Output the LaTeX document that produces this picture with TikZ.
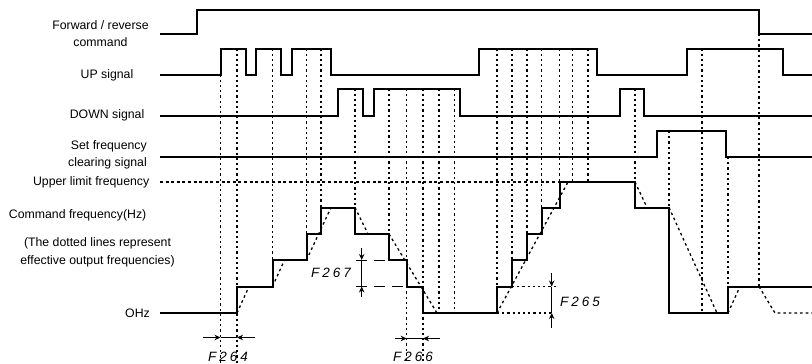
\documentclass[tikz,border=0pt]{standalone}
\usepackage{fontspec}
\setmainfont{Liberation Sans}
\newfontfamily\segfont[LetterSpace=22]{Liberation Sans}
\usetikzlibrary{arrows.meta}
\begin{document}
\begin{tikzpicture}[x=1pt,y=-1pt,
  sigline/.style={line width=2pt,line join=miter},
  vdot/.style={line width=1.3pt,dash pattern=on 2.2pt off 3pt},
  effline/.style={line width=1.3pt,dash pattern=on 2.6pt off 3pt},
  ulim/.style={line width=1.2pt,dash pattern=on 3pt off 2.6pt},
  longdash/.style={line width=1pt,dash pattern=on 11pt off 7pt},
  dimline/.style={line width=1pt},
  tip/.style={-{Stealth[length=6pt,width=5.5pt]}},
  lbl/.style={font=\fontsize{12.3}{16.5}\selectfont,inner sep=0pt},
  seg/.style={font=\fontsize{13.5}{15}\selectfont\segfont\itshape,inner sep=0pt}]
\useasboundingbox (0,0) rectangle (812,364);

% ---- labels
\node[lbl,align=center] (lfwd) at (100.5,33.5) {Forward / reverse\\command};
\node[lbl,anchor=east] (lup) at (133.5,75) {UP signal};
\node[lbl,anchor=east] (ldown) at (144.5,115) {DOWN signal};
\node[lbl,align=right,anchor=east] (lclr) at (147,155) {Set frequency\\clearing signal};
\node[lbl,anchor=east] (lulim) at (149.5,182.5) {Upper limit frequency};
\node[lbl,anchor=east] (lcmd) at (146.5,215) {Command frequency(Hz)};
\node[lbl,align=center,font=\fontsize{12.3}{18}\selectfont] (lnote) at (97.5,252.5) {(The dotted lines represent\\effective output frequencies)};
\node[lbl,anchor=east] (lzero) at (150,313) {OHz};

% ---- signals
\draw[sigline] (160,34) -- (197,34) -- (197,9.5) -- (759,9.5) -- (759,34) -- (812,34);
\draw[sigline] (160,74.5) -- (220.5,74.5) -- (220.5,48.5) -- (245.5,48.5) -- (245.5,74.5)
  -- (256,74.5) -- (256,48.5) -- (280.5,48.5) -- (280.5,74.5) -- (291.5,74.5) -- (291.5,48.5)
  -- (331,48.5) -- (331,74.5) -- (479,74.5) -- (479,48.5) -- (597,48.5) -- (597,74.5)
  -- (687,74.5) -- (687,48.5) -- (783,48.5) -- (783,74.5) -- (812,74.5);
\draw[sigline] (160,115.5) -- (337.5,115.5) -- (337.5,88.5) -- (362.5,88.5) -- (362.5,115.5)
  -- (373.5,115.5) -- (373.5,88.5) -- (460,88.5) -- (460,115.5) -- (620,115.5) -- (620,88.5)
  -- (644,88.5) -- (644,115.5) -- (812,115.5);
\draw[sigline] (160,157) -- (657,157) -- (657,131) -- (726,131) -- (726,157) -- (812,157);

% ---- upper limit
\draw[ulim] (160,182) -- (559.5,182);

% ---- vertical markers
\foreach \x/\ya/\yb in {220.5/74.5/363, 237/48.5/363, 272.5/48.5/260, 306.5/48.5/234,
  321/48.5/207.5, 355/88.5/207.5, 389/88.5/234, 406.7/88.5/363, 423/88.5/363,
  439/88.5/313, 454.5/88.5/313, 497/48.5/286.5, 512/48.5/260, 527/48.5/234,
  541.5/48.5/207.5, 559.5/48.5/182, 572.5/48.5/182, 588/48.5/182, 635/88.5/182,
  669/131/207.5, 702/48.5/313, 728/157/286.5, 759/34/286.5}
  \draw[vdot] (\x,\ya) -- (\x,\yb);

% ---- command frequency
\draw[sigline] (160,313) -- (237,313) -- (237,286.5) -- (272.5,286.5) -- (272.5,260)
  -- (306.5,260) -- (306.5,234) -- (321,234) -- (321,207.5) -- (355,207.5) -- (355,234)
  -- (389,234) -- (389,260) -- (406.7,260) -- (406.7,286.5) -- (423,286.5) -- (423,313)
  -- (497,313) -- (497,286.5) -- (512,286.5) -- (512,260) -- (527,260) -- (527,234)
  -- (541.5,234) -- (541.5,207.5) -- (559.5,207.5) -- (559.5,182) -- (635,182)
  -- (635,207.5) -- (669,207.5) -- (669,313) -- (728,313) -- (728,286.5) -- (812,286.5);

% ---- effective output frequency
\draw[effline] (237,313) -- (249,286.5);
\draw[effline] (272.5,286.5) -- (284.5,260);
\draw[effline] (306.5,260) -- (331,207.5);
\draw[effline] (355,207.5) -- (368,234);
\draw[effline] (389,234) -- (437,313);
\draw[effline] (497,313) -- (568,182);
\draw[effline] (635,182) -- (647,207.5);
\draw[effline] (669,207.5) -- (717,313);
\draw[effline] (728,313) -- (740,286.5);
\draw[effline] (759,286.5) -- (775,313) -- (812,313);

% ---- F264
\draw[dimline,tip] (203,337.5) -- (220.5,337.5);
\draw[dimline] (220.5,337.5) -- (237,337.5);
\draw[dimline,tip] (255,337.5) -- (237,337.5);
\node[seg] (f264) at (228,357) {F264};

% ---- F266
\draw[dimline,tip] (395,338.5) -- (406.7,338.5);
\draw[dimline] (406.7,338.5) -- (423,338.5);
\draw[dimline,tip] (440,338.5) -- (423,338.5);
\node[seg] (f266) at (413,357) {F266};

% ---- F267
\draw[longdash] (356,260) -- (389,260);
\draw[longdash] (356,286.5) -- (406.7,286.5);
\draw[dimline,tip] (361.7,248) -- (361.7,260);
\draw[dimline] (361.7,260) -- (361.7,286.5);
\draw[dimline,tip] (361.7,297) -- (361.7,286.5);
\node[seg] (f267) at (331,273) {F267};

% ---- F265
\draw[vdot] (512,286.5) -- (557,286.5);
\draw[vdot] (497,313) -- (552,313);
\draw[dimline,tip] (551.7,273) -- (551.7,286.5);
\draw[dimline] (551.7,286.5) -- (551.7,313);
\draw[dimline,tip] (551.7,328) -- (551.7,313);
\node[seg] (f265) at (580,302) {F265};
\end{tikzpicture}
\end{document}
